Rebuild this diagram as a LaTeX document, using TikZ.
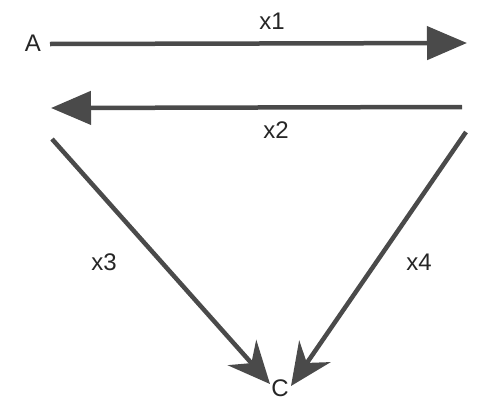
\documentclass[tikz,border=0pt]{standalone}
\usepackage{fontspec}
\setmainfont{Liberation Sans}
\usetikzlibrary{arrows.meta}
\definecolor{ink}{HTML}{4A4A4A}
\begin{document}
\begin{tikzpicture}[x=1pt,y=-1pt,
  lbl/.style={font=\fontsize{24}{26}\selectfont, text=black!85, inner sep=0pt},
  harrow/.style={draw=ink, line width=4.5pt, -{Triangle[length=40pt,width=33pt]}},
  darrow/.style={draw=ink, line width=4.5pt, -{Stealth[length=42pt,width=38pt,inset=14pt]}}]
\useasboundingbox (0,0) rectangle (477,402);
\fill[white] (0,0) rectangle (477,402);
\node[lbl] (A) at (33,43) {A};
\node[lbl] (C) at (280,388) {C};
\coordinate (p1s) at (50,44);
\coordinate (p1e) at (467,43);
\coordinate (p2s) at (462,107);
\coordinate (p2e) at (51,108);
\coordinate (p3s) at (52,139);
\coordinate (p3e) at (270,384);
\coordinate (p4s) at (466,132);
\coordinate (p4e) at (291,386);
\draw[harrow] (p1s) -- (p1e);
\draw[harrow] (p2s) -- (p2e);
\draw[darrow] (p3s) -- (p3e);
\draw[darrow] (p4s) -- (p4e);
\node[lbl] (x1) at (272,21) {x1};
\node[lbl] (x2) at (276,130) {x2};
\node[lbl] (x3) at (104,262) {x3};
\node[lbl] (x4) at (419,262) {x4};
\end{tikzpicture}
\end{document}
